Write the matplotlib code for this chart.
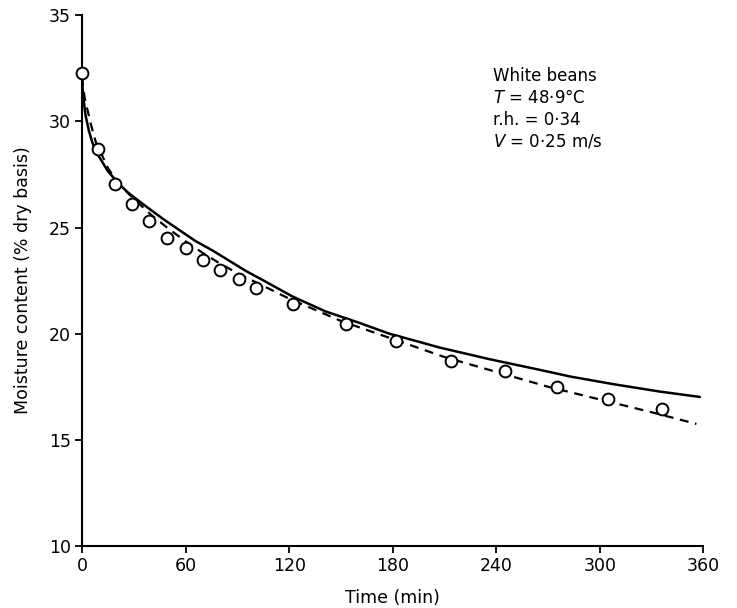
import matplotlib
matplotlib.use("Agg")
import matplotlib.pyplot as plt

# Observed data (circles)
obs_time = [0, 9.3, 19, 29, 39, 49, 60, 70, 80, 91, 101, 122, 153, 182, 214, 245, 275, 305, 336]
obs_moist = [32.27, 28.69, 27.04, 26.1, 25.3, 24.5, 24.03, 23.47, 23.0, 22.57, 22.15,
             21.4, 20.45, 19.65, 18.72, 18.25, 17.5, 16.92, 16.45]

# Solid curve (model 1)
solid_time = [0, 0.3, 1, 2, 4, 6, 9, 15, 22, 27, 37, 47, 56, 66, 76, 85, 95, 103, 122,
              141, 161, 178, 196, 207, 236, 265, 283, 308, 335, 358]
solid_moist = [32.2, 31.6, 30.95, 30.3, 29.55, 29.0, 28.45, 27.65, 27.0, 26.62, 26.0, 25.4,
               24.9, 24.35, 23.9, 23.45, 22.95, 22.6, 21.75, 21.05, 20.5, 20.0, 19.6, 19.35,
               18.8, 18.3, 17.98, 17.62, 17.27, 17.02]

# Dashed curve (model 2)
dash_time = [0, 1, 2, 3.5, 5, 8, 10.5, 15, 20, 25, 30, 40, 50, 60, 70, 80, 90, 100, 120,
             150, 180, 210, 240, 270, 300, 330, 356]
dash_moist = [32.1, 31.4, 30.9, 30.43, 29.9, 29.02, 28.6, 27.8, 27.2, 26.75, 26.35, 25.6,
              24.95, 24.35, 23.8, 23.3, 22.85, 22.45, 21.65, 20.6, 19.75, 18.9, 18.2,
              17.5, 16.9, 16.3, 15.75]

x_ticks = [0, 60, 120, 180, 240, 300, 360]
y_ticks = [10, 15, 20, 25, 30, 35]

plt.rcParams['font.family'] = ['DejaVu Sans']

fig = plt.figure(figsize=(7.37, 6.08), dpi=100)
ax = fig.add_axes([0.1113, 0.102, 0.843, 0.873])

ax.plot(solid_time, solid_moist, color='black', lw=1.8, solid_capstyle='round')
ax.plot(dash_time, dash_moist, color='black', lw=1.6, ls=(0, (4, 3)))
ax.plot(obs_time, obs_moist, ls='none', marker='o', ms=8.5, mfc='white', mec='black',
        mew=1.4, clip_on=False, zorder=5)

ax.set_xlim(0, 360)
ax.set_ylim(10, 35)
ax.set_xticks(x_ticks)
ax.set_yticks(y_ticks)
ax.spines['top'].set_visible(False)
ax.spines['right'].set_visible(False)
for s in ('left', 'bottom'):
    ax.spines[s].set_linewidth(1.5)
ax.tick_params(direction='out', length=5, width=1.3, labelsize=12.5, pad=3)

ax.set_xlabel('Time (min)', fontsize=12.5, labelpad=10)
ax.set_ylabel('Moisture content (% dry basis)', fontsize=12.5, labelpad=12)

ann_lines = ['White beans', '$T$ = 48·9°C', 'r.h. = 0·34', '$V$ = 0·25 m/s']
for i, line in enumerate(ann_lines):
    ax.text(0.662, 0.886 - i * 0.0415, line, transform=ax.transAxes, fontsize=12,
            ha='left', va='center')

fig.savefig('out.png', dpi=100)
